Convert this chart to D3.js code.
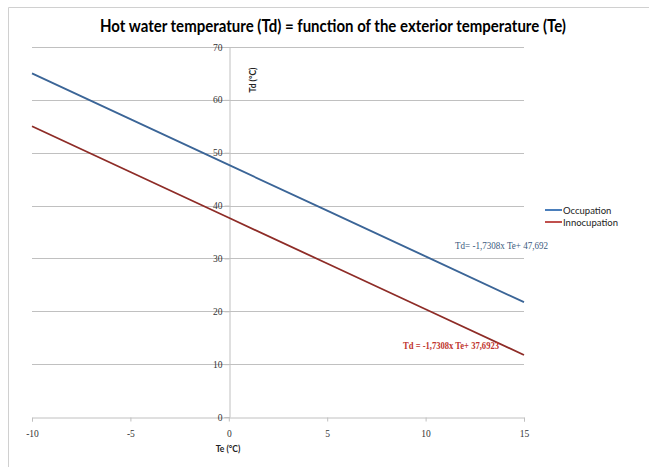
<!DOCTYPE html>
<html>
<head>
<meta charset="utf-8">
<script src="https://cdn.jsdelivr.net/npm/d3@7"></script>
<style>
body{margin:0;background:#fff;}
</style>
</head>
<body>
<script>
const te = [-10, -5, 0, 5, 10, 15];
const occupation = [65.0, 56.35, 47.69, 39.04, 30.38, 21.73];
const innocupation = [55.0, 46.35, 37.69, 29.04, 20.38, 11.73];
const seriesNames = ["Occupation", "Innocupation"];
const xTicks = [-10, -5, 0, 5, 10, 15];
const yTicks = [0, 10, 20, 30, 40, 50, 60, 70];
const equations = ["Td= -1,7308x Te+ 47,692", "Td = -1,7308x Te+ 37,6923"];

const W = 649, H = 467;
const svg = d3.select("body").append("svg").attr("width", W).attr("height", H);

// outer frame
svg.append("path").attr("d", "M8.5,467 V7.5 H649").attr("fill", "none").attr("stroke", "#d0d0d0").attr("stroke-width", 1);

const x = d3.scaleLinear().domain([-10, 15]).range([32, 524]);
const y = d3.scaleLinear().domain([0, 70]).range([417, 47]);

// gridlines
svg.append("g").selectAll("line").data(yTicks.filter(d => d > 0)).join("line")
  .attr("x1", x(-10)).attr("x2", x(15))
  .attr("y1", d => Math.round(y(d)) + 0.5).attr("y2", d => Math.round(y(d)) + 0.5)
  .attr("stroke", "#c0c0c0").attr("stroke-width", 1);

// x axis at y=0
const xAxis = svg.append("g").attr("transform", `translate(0,${Math.round(y(0)) + 0.5})`)
  .call(d3.axisBottom(x).tickValues(xTicks).tickSize(4).tickPadding(9).tickFormat(d3.format("d")));
xAxis.select(".domain").attr("stroke", "#c0c0c0");
xAxis.selectAll(".tick line").attr("stroke", "#c0c0c0");
xAxis.selectAll("text").attr("font-family", "Liberation Serif").attr("font-size", 9.5).attr("fill", "#333");
xAxis.selectAll(".tick text").text(d => d < 0 ? "-" + Math.abs(d) : d);

// y axis at x=0
const yAxis = svg.append("g").attr("transform", `translate(${Math.round(x(0)) + 0.5},0)`)
  .call(d3.axisLeft(y).tickValues(yTicks).tickSize(5).tickPadding(2).tickFormat(d3.format("d")));
yAxis.select(".domain").attr("stroke", "#c0c0c0");
yAxis.selectAll(".tick line").attr("stroke", "#c0c0c0");
yAxis.selectAll("text").attr("font-family", "Liberation Serif").attr("font-size", 9.5).attr("fill", "#333");

// lines
const colors = ["#3b6597", "#8e2c27"];
const legendColors = ["#4a7ebb", "#c0504d"];
const series = [occupation, innocupation];
const line = d3.line().x((d, i) => x(te[i])).y(d => y(d));
series.forEach((s, k) => {
  svg.append("path").datum(s).attr("d", line).attr("fill", "none")
    .attr("stroke", colors[k]).attr("stroke-width", 1.8);
});

// title
svg.append("text").attr("x", 333).attr("y", 32).attr("text-anchor", "middle")
  .attr("font-family", "Lato").attr("font-weight", "bold").attr("font-size", 16.5)
  .attr("fill", "#000").attr("textLength", 466).attr("lengthAdjust", "spacingAndGlyphs")
  .text("Hot water temperature (Td) = function of the exterior temperature (Te)");

// axis titles
svg.append("text").attr("x", 228).attr("y", 452).attr("text-anchor", "middle")
  .attr("font-family", "Lato").attr("font-weight", "bold").attr("font-size", 8.5).attr("fill", "#222")
  .text("Te (°C)");
svg.append("text").attr("transform", "translate(256,80) rotate(-90)").attr("text-anchor", "middle")
  .attr("font-family", "Lato").attr("font-weight", "bold").attr("font-size", 8.5).attr("fill", "#222")
  .text("Td (°C)");

// legend
const leg = svg.append("g");
seriesNames.forEach((n, k) => {
  const yy = 210 + k * 12;
  leg.append("line").attr("x1", 545).attr("x2", 562).attr("y1", yy).attr("y2", yy)
    .attr("stroke", legendColors[k]).attr("stroke-width", 2);
  leg.append("text").attr("x", 563).attr("y", yy + 3.5)
    .attr("font-family", "Lato").attr("font-size", 9.5).attr("fill", "#222").text(n);
});

// equation labels
svg.append("text").attr("x", 455).attr("y", 249)
  .attr("font-family", "Liberation Serif").attr("font-size", 10).attr("fill", "#3b5a7e")
  .attr("textLength", 93).attr("lengthAdjust", "spacingAndGlyphs")
  .text(equations[0]);
svg.append("text").attr("x", 403).attr("y", 349)
  .attr("font-family", "Liberation Serif").attr("font-weight", "bold").attr("font-size", 10).attr("fill", "#c0352e")
  .attr("textLength", 96).attr("lengthAdjust", "spacingAndGlyphs")
  .text(equations[1]);
</script>
</body>
</html>
